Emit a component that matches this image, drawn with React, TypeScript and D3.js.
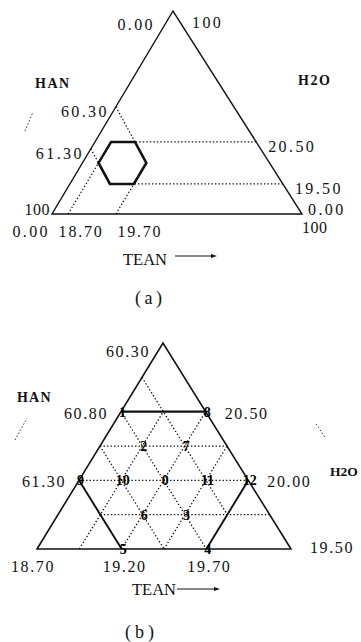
import React from "react";
import * as d3 from "d3";

// ---------- data ----------
const HAN_LIMITS = [60.3, 61.3];
const H2O_LIMITS = [19.5, 20.5];
const TEAN_LIMITS = [18.7, 19.7];

// (a) corner labels of the full 0..100 triangle
const A_APEX_LABELS = ["0.00", "100"]; // HAN, H2O at the apex
const A_LEFT_LABELS = ["100", "0.00"]; // HAN, TEAN at the left corner
const A_RIGHT_LABELS = ["0.00", "100"]; // H2O, TEAN at the right corner

// (b) design points
const POINT_IDS = ["0", "1", "2", "3", "4", "5", "6", "7", "8", "9", "10", "11", "12"];
const POINT_H2O = [20.0, 20.5, 20.25, 19.75, 19.5, 19.5, 19.75, 20.25, 20.5, 20.0, 20.0, 20.0, 20.0];
const POINT_TEAN = [19.2, 18.7, 18.95, 19.45, 19.7, 19.2, 19.2, 19.2, 19.2, 18.7, 18.95, 19.45, 19.7];

// (b) grid lines
const GRID_H2O = [20.25, 20.0, 19.75];
const GRID_TEAN = [18.95, 19.2, 19.45];
const GRID_HAN = [60.55, 60.8, 61.05];

// (b) tick labels
const B_HAN_TICKS = [60.3, 60.8, 61.3];
const B_H2O_TICKS = [20.5, 20.0, 19.5];
const B_TEAN_TICKS = [18.7, 19.2, 19.7];

// ---------- helpers ----------
type P = [number, number];
const fmt = d3.format(".2f");
const FONT = "'Liberation Serif', 'Times New Roman', serif";
const DOT = { stroke: "#111", strokeWidth: 1.25, strokeDasharray: "1.4 2.1" };

function makeProj(L: P, R: P, T: P, tS: d3.ScaleLinear<number, number>, rS: d3.ScaleLinear<number, number>) {
  return (w: number, te: number): P => {
    const t = tS(w);
    const r = rS(te);
    return [L[0] + r * (R[0] - L[0]) + t * (T[0] - L[0]), L[1] + r * (R[1] - L[1]) + t * (T[1] - L[1])];
  };
}

const line = d3.line<P>();

const [hanMin, hanMax] = HAN_LIMITS;
const [wMin, wMax] = H2O_LIMITS;
const [teMin, teMax] = TEAN_LIMITS;

// hexagon vertices (H2O, TEAN)
const HEX: [number, number][] = [
  [wMax, teMin],
  [wMax, 100 - hanMin - wMax],
  [100 - hanMin - teMax, teMax],
  [wMin, teMax],
  [wMin, 100 - hanMax - wMin],
  [100 - hanMax - teMin, teMin],
];

// ---------- (a) ----------
const AL: P = [52, 214], AR: P = [302, 214], AT: P = [173, 11];
const tA = d3.scaleLinear().domain(H2O_LIMITS).range([0.148, 0.355]);
const rA = d3.scaleLinear().domain(TEAN_LIMITS).range([0.0644, 0.2556]);
const projA = makeProj(AL, AR, AT, tA, rA);

function ChartA() {
  const hex = HEX.map(([w, t]) => projA(w, t));
  const te0 = rA.invert(0);
  const wBottom = tA.invert(0);
  const rightEdgeT = (w: number) => rA.invert(1 - tA(w));
  const dotted: { a: P; b: P; label: string; kind: string }[] = [
    { a: projA(100 - hanMin - te0, te0), b: hex[1], label: fmt(hanMin), kind: "L" },
    { a: projA(100 - hanMax - te0, te0), b: hex[5], label: fmt(hanMax), kind: "L" },
    { a: projA(wMax, rightEdgeT(wMax)), b: hex[1], label: fmt(wMax), kind: "R" },
    { a: projA(wMin, rightEdgeT(wMin)), b: hex[3], label: fmt(wMin), kind: "R" },
    { a: projA(wBottom, teMin), b: hex[5], label: fmt(teMin), kind: "B0" },
    { a: projA(wBottom, teMax), b: hex[3], label: fmt(teMax), kind: "B1" },
  ];
  return (
    <g>
      <path d={line([AL, AR, AT])! + "Z"} fill="none" stroke="#111" strokeWidth={1.4} strokeLinejoin="miter" />
      {dotted.map((d, i) => (
        <line key={i} x1={d.a[0]} y1={d.a[1]} x2={d.b[0]} y2={d.b[1]} {...DOT} />
      ))}
      <path d={line(hex)! + "Z"} fill="none" stroke="#111" strokeWidth={2.6} strokeLinejoin="miter" />
      <g fontFamily={FONT} fontSize={16} fill="#111" letterSpacing={2.4}>
        {dotted.map((d, i) => {
          if (d.kind === "L")
            return <text key={i} x={d.a[0] - 7} y={d.a[1] + 10} textAnchor="end">{d.label}</text>;
          if (d.kind === "R")
            return <text key={i} x={d.a[0] + 12} y={d.a[1] + 10}>{d.label}</text>;
          return (
            <text key={i} x={d.a[0] + (d.kind === "B0" ? 13 : 24)} y={d.a[1] + 23} textAnchor="middle" letterSpacing={1.8}>
              {d.label}
            </text>
          );
        })}
        <text x={AT[0] - 18} y={AT[1] + 19} textAnchor="end">{A_APEX_LABELS[0]}</text>
        <text x={AT[0] + 19} y={AT[1] + 17}>{A_APEX_LABELS[1]}</text>
        <text x={AL[0] - 2} y={AL[1] + 1} textAnchor="end" letterSpacing={0.5}>{A_LEFT_LABELS[0]}</text>
        <text x={AL[0] - 2} y={AL[1] + 23} textAnchor="end">{A_LEFT_LABELS[1]}</text>
        <text x={AR[0] + 6} y={AR[1] + 1}>{A_RIGHT_LABELS[0]}</text>
        <text x={AR[0]} y={AR[1] + 19} letterSpacing={0.5}>{A_RIGHT_LABELS[1]}</text>
      </g>
      <g fontFamily={FONT} fontSize={14} fontWeight="bold" fill="#111" letterSpacing={1.5}>
        <text x={35} y={88}>HAN</text>
        <text x={298} y={85}>H2O</text>
      </g>
      <text x={123} y={265} fontFamily={FONT} fontSize={16.5} fill="#111">TEAN</text>
      <line x1={175} y1={256} x2={214} y2={256} stroke="#111" strokeWidth={1.2} />
      <path d="M211,254 L217,256 L211,258 Z" fill="#111" />
      <text x={135} y={304} fontFamily={FONT} fontSize={18} fill="#111" letterSpacing={3.5}>(a)</text>
      <line x1={25} y1={131} x2={33} y2={112} stroke="#333" strokeWidth={1} strokeDasharray="1.5 2" />
    </g>
  );
}

// ---------- (b) ----------
const BL: P = [37, 549], BR: P = [291, 549], BT: P = [163, 343];
const span = 100 - hanMin - wMin - teMin;
const tB = d3.scaleLinear().domain([wMin, wMin + span]).range([0, 1]);
const rB = d3.scaleLinear().domain([teMin, teMin + span]).range([0, 1]);
const projB = makeProj(BL, BR, BT, tB, rB);

function ChartB() {
  const hex = HEX.map(([w, t]) => projB(w, t));
  const grid: [P, P][] = [];
  GRID_H2O.forEach((w) => {
    const lo = Math.max(teMin, 100 - hanMax - w);
    const hi = 100 - hanMin - w;
    grid.push([projB(w, lo), projB(w, hi)]);
  });
  GRID_TEAN.forEach((te) => {
    const hi = Math.min(wMax, 100 - hanMin - te);
    grid.push([projB(wMin, te), projB(hi, te)]);
  });
  GRID_HAN.forEach((h) => {
    const teHi = Math.min(teMax, 100 - h - wMin);
    grid.push([projB(100 - h - teMin, teMin), projB(100 - h - teHi, teHi)]);
  });
  const solid: [P, P][] = [
    [hex[0], hex[1]],
    [hex[2], hex[3]],
    [hex[4], hex[5]],
  ];
  return (
    <g>
      {grid.map(([a, b], i) => (
        <line key={i} x1={a[0]} y1={a[1]} x2={b[0]} y2={b[1]} {...DOT} />
      ))}
      <path d={line([BL, BR, BT])! + "Z"} fill="none" stroke="#111" strokeWidth={1.6} strokeLinejoin="miter" />
      {solid.map(([a, b], i) => (
        <line key={i} x1={a[0]} y1={a[1]} x2={b[0]} y2={b[1]} stroke="#111" strokeWidth={i === 0 ? 2.2 : 1.9} />
      ))}
      <g fontFamily={FONT} fontSize={14} fontWeight="bold" fill="#000" textAnchor="middle">
        {POINT_IDS.map((id, i) => {
          const [x, y] = projB(POINT_H2O[i], POINT_TEAN[i]);
          return (
            <text key={id} x={x + 1.5} y={y + 5}>{id}</text>
          );
        })}
      </g>
      <g fontFamily={FONT} fontSize={16} fill="#111" letterSpacing={1.6}>
        {B_HAN_TICKS.map((h, i) => {
          const [x, y] = projB(100 - h - teMin, teMin);
          return <text key={"h" + i} x={x - 13} y={y + (i === 0 ? 14 : 7)} textAnchor="end">{fmt(h)}</text>;
        })}
        {B_H2O_TICKS.map((w, i) => {
          const [x, y] = projB(w, 100 - hanMin - w);
          return <text key={"w" + i} x={x + 19} y={y + (i === 2 ? 4 : 7)}>{fmt(w)}</text>;
        })}
        {B_TEAN_TICKS.map((te, i) => {
          const [x, y] = projB(wMin, te);
          return <text key={"t" + i} x={x + (i === 0 ? -4 : 3)} y={y + 23} textAnchor="middle">{fmt(te)}</text>;
        })}
      </g>
      <g fontFamily={FONT} fontSize={14} fontWeight="bold" fill="#111" letterSpacing={1.2}>
        <text x={17} y={402}>HAN</text>
      </g>
      <text x={330} y={476} fontFamily={FONT} fontSize={13.5} fontWeight="bold" fill="#111">H2O</text>
      <text x={132} y={595} fontFamily={FONT} fontSize={16.5} fill="#111">TEAN</text>
      <line x1={177} y1={589} x2={217} y2={589} stroke="#111" strokeWidth={1.2} />
      <path d="M214,587 L220,589 L214,591 Z" fill="#111" />
      <text x={125} y={638} fontFamily={FONT} fontSize={18} fill="#111" letterSpacing={4}>(b)</text>
      <line x1={15} y1={440} x2={27} y2={418} stroke="#333" strokeWidth={1} strokeDasharray="1.5 2" />
      <line x1={316} y1={424} x2={325} y2={437} stroke="#333" strokeWidth={1} strokeDasharray="1.5 2" />
    </g>
  );
}

export default function App() {
  return (
    <div style={{ position: "absolute", left: 0, top: 0 }}>
      <svg width={361} height={642} viewBox="0 0 361 642" style={{ display: "block", background: "#fff" }}>
        <rect x={0} y={0} width={361} height={642} fill="#fff" />
        <ChartA />
        <ChartB />
      </svg>
    </div>
  );
}
